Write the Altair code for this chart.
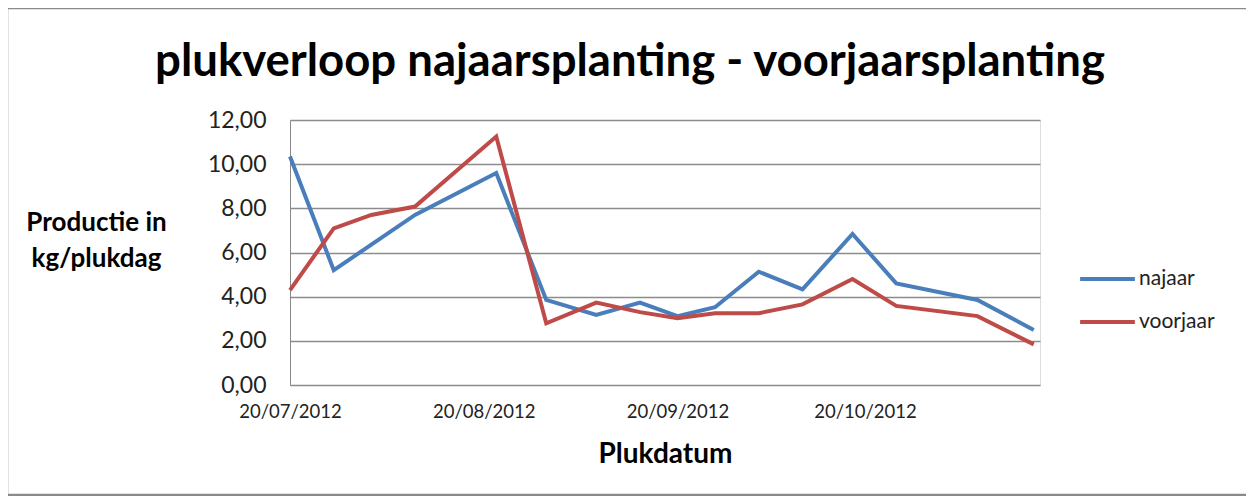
import altair as alt
import pandas as pd

dates = ["2012-07-20", "2012-07-27", "2012-08-02", "2012-08-09", "2012-08-22", "2012-08-30",
         "2012-09-07", "2012-09-14", "2012-09-20", "2012-09-26", "2012-10-03", "2012-10-10",
         "2012-10-18", "2012-10-25", "2012-11-07", "2012-11-16"]
najaar = [10.35, 5.2, None, 7.7, 9.6, 3.85, 3.17, 3.73, 3.12, 3.52, 5.13, 4.33, 6.84, 4.6, 3.85, 2.49]
voorjaar = [4.3, 7.09, 7.7, 8.08, 11.25, 2.79, 3.73, 3.3, 3.02, 3.25, 3.25, 3.65, 4.8, 3.58, 3.12, 1.84]
series = ["najaar", "voorjaar"]
colors = ["#4A7EBB", "#BE4B48"]
tick_dates = ["2012-07-20", "2012-08-20", "2012-09-20", "2012-10-20"]
title_text = "plukverloop najaarsplanting - voorjaarsplanting"

rows = []
for d, a, b in zip(dates, najaar, voorjaar):
    if a is not None:
        rows.append({"datum": d, "reeks": "najaar", "waarde": a})
    rows.append({"datum": d, "reeks": "voorjaar", "waarde": b})
df = pd.DataFrame(rows)

FONT = "Lato"

tick_vals = [alt.DateTime(year=int(t[:4]), month=int(t[5:7]), date=int(t[8:])) for t in tick_dates]

lines = alt.Chart(df).mark_line(strokeWidth=4, strokeJoin="miter").encode(
    x=alt.X("datum:T",
            scale=alt.Scale(domain=[alt.DateTime(year=2012, month=7, date=20),
                                    alt.DateTime(year=2012, month=11, date=17)]),
            axis=alt.Axis(values=tick_vals, format="%d/%m/%Y", title="Plukdatum",
                          grid=False, ticks=False, domain=False, labelFontSize=18.5,
                          labelColor="#222", labelPadding=17, titleFontSize=28,
                          titleFontWeight="bold", titleColor="#000", titlePadding=20,
                          labelFont=FONT, titleFont=FONT, labelOverlap=False,
                          labelFlush=False)),
    y=alt.Y("waarde:Q", scale=alt.Scale(domain=[0, 12]),
            axis=alt.Axis(values=[0, 2, 4, 6, 8, 10, 12],
                          labelExpr="replace(format(datum.value, '.2f'), '.', ',')",
                          title=["Productie in", "kg/plukdag"], titleAngle=0,
                          titleX=-194, titleY=89, titleAlign="center", titleBaseline="top",
                          titleFontSize=26, titleFontWeight="bold", titleColor="#000",
                          titleLineHeight=36, labelFontSize=23, labelColor="#222",
                          labelPadding=24, ticks=False, domainColor="#888",
                          gridColor="#8c8c8c", gridWidth=1.3, labelFont=FONT, titleFont=FONT)),
    color=alt.Color("reeks:N", scale=alt.Scale(domain=series, range=colors),
                    legend=alt.Legend(title=None, orient="none", legendX=788, legendY=147,
                                      symbolType="stroke", symbolSize=3000, symbolStrokeWidth=4,
                                      labelFontSize=21, labelColor="#222", rowPadding=19,
                                      clipHeight=24, labelFont=FONT, labelOffset=2)),
)

border = alt.Chart(pd.DataFrame({"k": [0]})).mark_rect(fill=None, stroke="#8a8a8a", strokeWidth=2.5).encode(
    x=alt.value(-283), x2=alt.value(975), y=alt.value(-112), y2=alt.value(375)
)

title = alt.Chart(pd.DataFrame({"t": [title_text]})).mark_text(
    fontSize=45.5, font=FONT, fontWeight="bold", color="#000", align="center", baseline="middle"
).encode(text="t:N", x=alt.value(340), y=alt.value(-58))

chart = alt.layer(border, lines, title).properties(
    width=750, height=265,
    autosize=alt.AutoSizeParams(type="none"),
    padding={"left": 282, "top": 112, "right": 206, "bottom": 111},
).configure_view(stroke=None).configure(background="white")

chart.save("out.html", embed_options={"renderer": "svg", "actions": False})
